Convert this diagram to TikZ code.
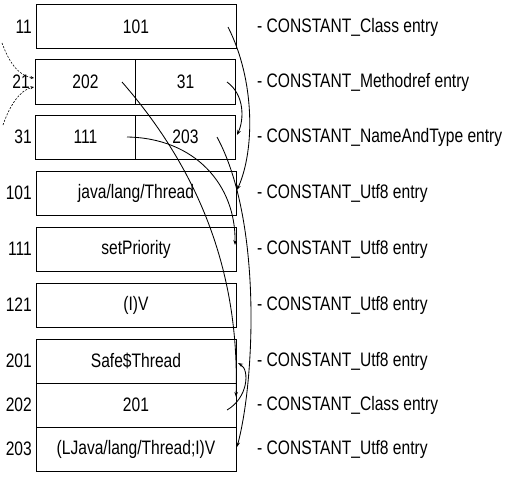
\documentclass[tikz,border=0pt]{standalone}
\usepackage{fontspec}
\setmainfont[FakeStretch=0.8]{Liberation Sans}
\usetikzlibrary{arrows.meta}
\begin{document}
\begin{tikzpicture}[x=1pt,y=-1pt,
  txt/.style={font=\fontsize{19.5}{21}\selectfont,inner sep=0pt},
  cell/.style={txt,draw,line width=1pt,minimum height=44pt,minimum width=200pt},
  half/.style={cell,minimum width=100pt},
  idx/.style={txt,anchor=east},
  desc/.style={txt,anchor=west},
  conn/.style={-{Stealth[length=5pt,width=3.6pt]},line width=0.85pt},
  dconn/.style={-{Stealth[length=3.5pt,width=3pt]},line width=0.6pt,dash pattern=on 2pt off 1.5pt}
]
\useasboundingbox (0,0) rectangle (510,476);
% cells
\node[cell] (r11) at (136,26.5) {101};
\node[half] (r21a) at (85.5,82) {202};
\node[half] (r21b) at (185.5,82) {31};
\node[half] (r31a) at (85.5,137) {111};
\node[half] (r31b) at (185.5,137) {203};
\node[cell] (r101) at (136,193.5) {java/lang/Thread};
\node[cell] (r111) at (136,249) {setPriority};
\node[cell] (r121) at (136,305) {(I)V};
\node[cell] (r201) at (136,361) {Safe\$Thread};
\node[cell] (r202) at (136,405) {201};
\node[cell] (r203) at (136,449.5) {(LJava/lang/Thread;I)V};
% indices
\node[idx] (i11) at (32,27) {11};
\node[idx] (i21) at (30,82) {21};
\node[idx] (i31) at (32,137) {31};
\node[idx] (i101) at (32,193) {101};
\node[idx] (i111) at (32,249) {111};
\node[idx] (i121) at (32,305) {121};
\node[idx] (i201) at (32,361) {201};
\node[idx] (i202) at (32,405) {202};
\node[idx] (i203) at (32,449) {203};
% descriptions
\node[desc] (d11) at (257,27) {- CONSTANT\_Class entry};
\node[desc] (d21) at (257,82) {- CONSTANT\_Methodref entry};
\node[desc] (d31) at (257,137) {- CONSTANT\_NameAndType entry};
\node[desc] (d101) at (257,193) {- CONSTANT\_Utf8 entry};
\node[desc] (d111) at (257,249) {- CONSTANT\_Utf8 entry};
\node[desc] (d121) at (257,305) {- CONSTANT\_Utf8 entry};
\node[desc] (d201) at (257,361) {- CONSTANT\_Utf8 entry};
\node[desc] (d202) at (257,405) {- CONSTANT\_Class entry};
\node[desc] (d203) at (257,449) {- CONSTANT\_Utf8 entry};
% connector endpoints
\coordinate (a0) at (228,27);  \coordinate (a1) at (237,190);
\coordinate (b0) at (227,82);  \coordinate (b1) at (237,135);
\coordinate (c0) at (122,82);  \coordinate (c1) at (236,397);
\coordinate (e0) at (127,137); \coordinate (e1) at (235,245);
\coordinate (f0) at (217,137); \coordinate (f1) at (237,447);
\coordinate (g0) at (227,410); \coordinate (g1) at (238,363);
\coordinate (h0) at (2,43);    \coordinate (h1) at (34,78);
\coordinate (k0) at (3,125);   \coordinate (k1) at (34,87);
% connectors
\draw[conn] (a0) .. controls (255,80) and (255,150) .. (a1);
\draw[conn] (b0) .. controls (245,95) and (244,120) .. (b1);
\draw[conn] (c0) .. controls (190,160) and (240,260) .. (c1);
\draw[conn] (e0) .. controls (195,138) and (236,185) .. (e1);
\draw[conn] (f0) .. controls (262,220) and (255,380) .. (f1);
\draw[conn] (g0) .. controls (248,398) and (250,370) .. (g1);
\draw[dconn] (h0) .. controls (10,65) and (20,76) .. (h1);
\draw[dconn] (k0) .. controls (10,105) and (20,90) .. (k1);
\end{tikzpicture}
\end{document}
